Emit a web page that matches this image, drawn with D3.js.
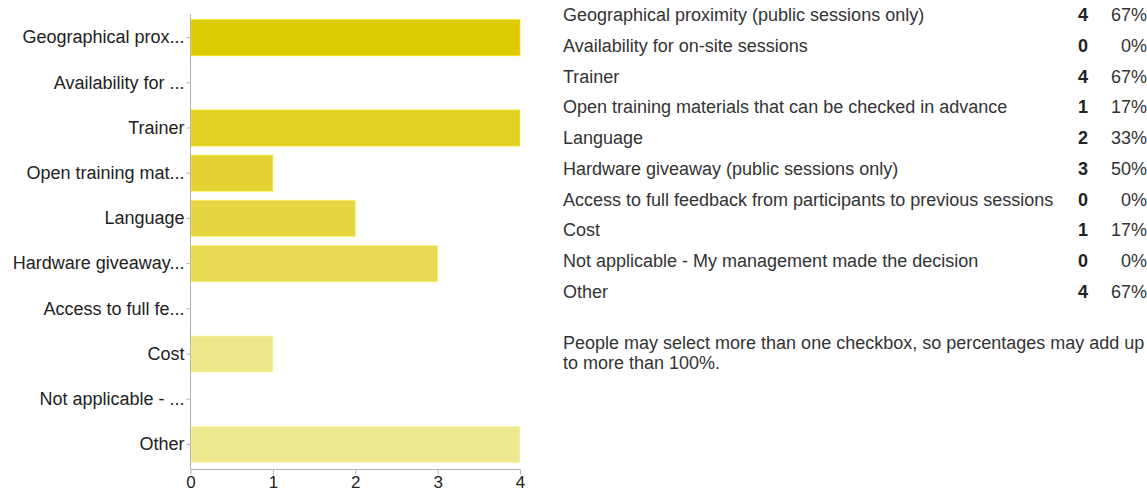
<!DOCTYPE html>
<html>
<head>
<meta charset="utf-8">
<script src="https://cdn.jsdelivr.net/npm/d3@7"></script>
<style>
  html, body { margin: 0; padding: 0; background: #fff; }
  svg { display: block; font-family: "Liberation Sans", Arial, sans-serif; }
</style>
</head>
<body>
<svg id="chart" width="1147" height="492"></svg>
<script>
// ---- data ----
const categories = [
  "Geographical proximity (public sessions only)",
  "Availability for on-site sessions",
  "Trainer",
  "Open training materials that can be checked in advance",
  "Language",
  "Hardware giveaway (public sessions only)",
  "Access to full feedback from participants to previous sessions",
  "Cost",
  "Not applicable - My management made the decision",
  "Other"
];
const shortLabels = [
  "Geographical prox...",
  "Availability for ...",
  "Trainer",
  "Open training mat...",
  "Language",
  "Hardware giveaway...",
  "Access to full fe...",
  "Cost",
  "Not applicable - ...",
  "Other"
];
const counts = [4, 0, 4, 1, 2, 3, 0, 1, 0, 4];
const percents = ["67%", "0%", "67%", "17%", "33%", "50%", "0%", "17%", "0%", "67%"];
const xTicks = [0, 1, 2, 3, 4];
const footnoteLines = [
  "People may select more than one checkbox, so percentages may add up",
  "to more than 100%."
];

// ---- styles ----
const barColors = ["#DCCB00", "#DFCE10", "#E1D022", "#E3D232", "#E5D543", "#E7D954",
                   "#E9DC64", "#EEE58A", "#EEE68E", "#EFE893"];
const axisColor = "#b3b3b3";

const svg = d3.select("#chart");

// ---- scales ----
const x = d3.scaleLinear().domain([0, 4]).range([190.5, 520]);
const y = d3.scaleBand().domain(categories).range([15, 467]).paddingInner(0.2).paddingOuter(0.1);

// bars
svg.append("g").selectAll("rect")
  .data(categories)
  .join("rect")
  .attr("x", x(0) + 0.5)
  .attr("y", d => y(d))
  .attr("width", (d, i) => Math.max(0, x(counts[i]) - x(0) - 0.5))
  .attr("height", y.bandwidth())
  .attr("fill", (d, i) => barColors[i])
  .attr("stroke", (d, i) => counts[i] > 0 ? d3.color(barColors[i]).brighter(0.4) : "none")
  .attr("stroke-width", 1)
  .attr("stroke-opacity", 0.6);

// y axis
const yAxis = d3.axisLeft(y).tickSize(4).tickPadding(2).tickFormat((d, i) => shortLabels[i]);
const gy = svg.append("g").attr("transform", `translate(${x(0)},0)`).call(yAxis);
gy.select(".domain").remove();
gy.append("line").attr("x1", 0).attr("x2", 0).attr("y1", 14).attr("y2", 469.5)
  .attr("stroke", axisColor);
gy.selectAll(".tick line").attr("stroke", axisColor);
gy.selectAll(".tick text").attr("fill", "#222").style("font-size", "18px")
  .style("font-family", "'Liberation Sans', Arial, sans-serif");

// x axis
const xAxis = d3.axisBottom(x).tickValues(xTicks).tickFormat(d3.format("d")).tickSize(5).tickPadding(1);
const gx = svg.append("g").attr("transform", "translate(0,469.5)").call(xAxis);
gx.select(".domain").remove();
gx.append("line").attr("x1", x(0)).attr("x2", x(4)).attr("y1", 0).attr("y2", 0)
  .attr("stroke", axisColor);
gx.selectAll(".tick line").attr("stroke", axisColor);
gx.selectAll(".tick text").attr("fill", "#222").style("font-size", "17px")
  .style("font-family", "'Liberation Sans', Arial, sans-serif");

// ---- right-hand table ----
const rowY = d3.scalePoint().domain(categories).range([21, 298]);
const table = svg.append("g").style("font-size", "18px").attr("fill", "#333");
table.selectAll("text.lbl").data(categories).join("text")
  .attr("class", "lbl").attr("x", 563).attr("y", d => rowY(d)).text(d => d);
table.selectAll("text.cnt").data(categories).join("text")
  .attr("class", "cnt").attr("x", 1088).attr("y", d => rowY(d))
  .attr("text-anchor", "end").attr("font-weight", "bold").attr("fill", "#222")
  .text((d, i) => counts[i]);
table.selectAll("text.pct").data(categories).join("text")
  .attr("class", "pct").attr("x", 1147).attr("y", d => rowY(d))
  .attr("text-anchor", "end").text((d, i) => percents[i]);

svg.append("g").style("font-size", "18px").attr("fill", "#333")
  .selectAll("text").data(footnoteLines).join("text")
  .attr("x", 563).attr("y", (d, i) => 349 + i * 20).text(d => d);
</script>
</body>
</html>
